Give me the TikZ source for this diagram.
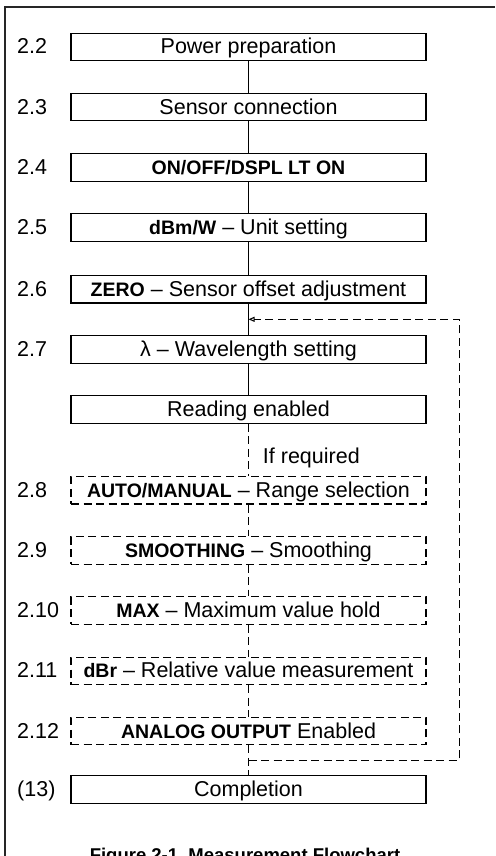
\documentclass[tikz,border=0pt]{standalone}
\usepackage{fontspec}
\setmainfont{Liberation Sans}
\usetikzlibrary{arrows.meta,positioning,calc}

\newcommand\keylbl[1]{{\fontsize{19.5}{21}\selectfont\bfseries #1}}

\begin{document}
\begin{tikzpicture}[
  x=1pt, y=-1pt,
  node distance=31.6pt,
  font=\fontsize{21.5}{24}\selectfont,
  stepbox/.style={
    draw, line width=1.1pt, minimum width=355pt, minimum height=27.5pt,
    inner sep=0pt, text height=14pt, text depth=0pt},
  optbox/.style={stepbox, dash pattern=on 8pt off 4.5pt},
  num/.style={anchor=west, inner sep=0pt, text height=14pt, text depth=0pt},
  link/.style={line width=0.9pt},
  optlink/.style={line width=0.9pt, dash pattern=on 8pt off 4.5pt},
  back/.style={-{Triangle[open, length=6pt, width=5pt, line width=1pt]},
    line width=0.9pt, dash pattern=on 8pt off 4.5pt},
  frame/.style={line width=1.3pt, black!85},
]
  \useasboundingbox (0,0) rectangle (495,856);
  \clip (0,0) rectangle (495,856);

  %% ---- Frame ----
  \coordinate (ftl) at (5,7);
  \draw[frame] (5,860) -- (ftl) -- (495,7);

  %% ---- Steps ----
  \node[stepbox] (b22) at (248.5,47) {Power preparation};
  \node[stepbox, below=of b22] (b23) {Sensor connection};
  \node[stepbox, below=of b23] (b24) {\keylbl{ON/OFF/DSPL LT ON}};
  \node[stepbox, below=of b24] (b25) {\keylbl{dBm/W} -- Unit setting};
  \node[stepbox, below=33pt of b25] (b26) {\keylbl{ZERO} -- Sensor offset adjustment};
  \node[stepbox, below=of b26] (b27) {λ -- Wavelength setting};
  \node[stepbox, below=of b27] (read) {Reading enabled};
  \node[optbox, below=52pt of read] (b28) {\keylbl{AUTO/MANUAL} -- Range selection};
  \node[optbox, below=of b28] (b29) {\keylbl{SMOOTHING} -- Smoothing};
  \node[optbox, below=of b29] (b210) {\keylbl{MAX} -- Maximum value hold};
  \node[optbox, below=of b210] (b211) {\keylbl{dBr} -- Relative value measurement};
  \node[optbox, below=of b211] (b212) {\keylbl{ANALOG OUTPUT} Enabled};
  \node[stepbox, below=30pt of b212] (done) {Completion};

  %% ---- Section numbers ----
  \coordinate (lx) at (17,0);
  \foreach \b/\n in {b22/2.2,b23/2.3,b24/2.4,b25/2.5,b26/2.6,b27/2.7,
                     b28/2.8,b29/2.9,b210/2.10,b211/2.11,b212/2.12,done/(13)}{
    \node[num] (n-\b) at (lx |- \b) {\n};
  }

  %% ---- Main flow ----
  \foreach \a/\b in {b22/b23,b23/b24,b24/b25,b25/b26,b26/b27,b27/read}{
    \draw[link] (\a.south) -- (\b.north);
  }
  \draw[optlink] (read.south) -- node[pos=0.65, right=14pt, inner sep=0pt] (ifreq) {If required} (b28.north);
  \foreach \a/\b in {b28/b29,b29/b210,b210/b211,b211/b212,b212/done}{
    \draw[optlink] (\a.south) -- (\b.north);
  }

  %% ---- Repeat loop ----
  \coordinate (lo) at ($(b212.south)!0.5!(done.north)$);
  \coordinate (hi) at ($(b26.south)!0.5!(b27.north)$);
  \coordinate (rx) at (459,0);
  \draw[back] (lo) -- (lo -| rx) -- (hi -| rx) -- (hi);

  %% ---- Caption (cut off at the page edge, as in the scan) ----
  \node[font=\fontsize{18.5}{20}\selectfont\bfseries, anchor=base] (cap) at (245,861)
    {Figure 2-1\ \ Measurement Flowchart};
\end{tikzpicture}
\end{document}
